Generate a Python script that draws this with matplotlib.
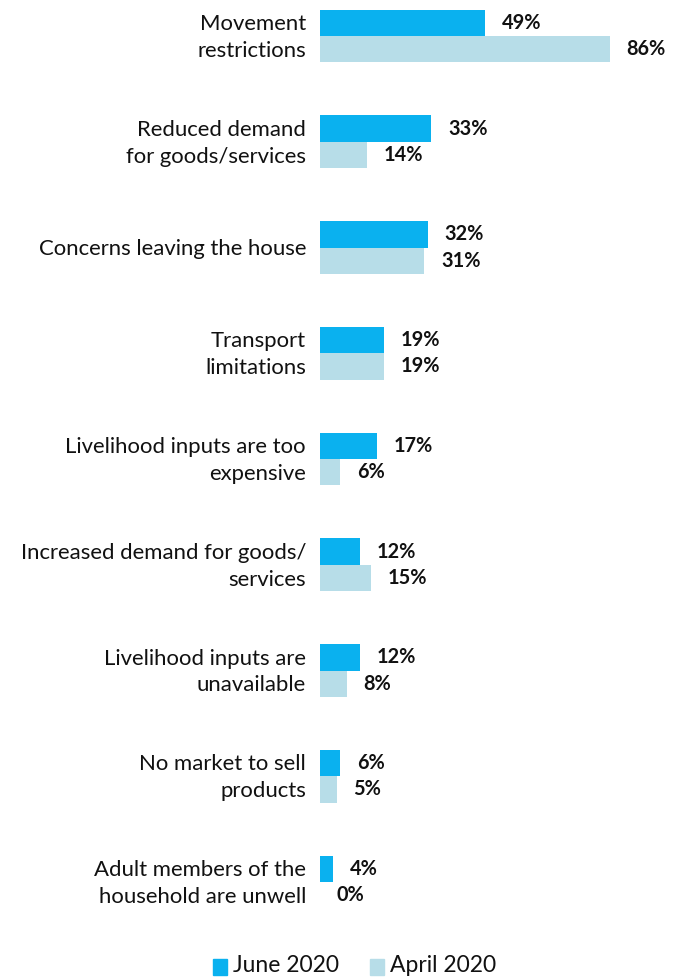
import numpy as np
import matplotlib
matplotlib.use('Agg')
import matplotlib.pyplot as plt
from matplotlib.patches import Rectangle

JUNE = '#0AB1EF'
APRIL = '#B7DDE8'
INK = '#111111'
plt.rcParams['font.family'] = ['Lato', 'DejaVu Sans']

categories = [
    'Movement\nrestrictions',
    'Reduced demand\nfor goods/services',
    'Concerns leaving the house',
    'Transport\nlimitations',
    'Livelihood inputs are too\nexpensive',
    'Increased demand for goods/\nservices',
    'Livelihood inputs are\nunavailable',
    'No market to sell\nproducts',
    'Adult members of the\nhousehold are unwell',
]
june_2020 = [49, 33, 32, 19, 17, 12, 12, 6, 4]
april_2020 = [86, 14, 31, 19, 6, 15, 8, 5, 0]
series_names = ['June 2020', 'April 2020']

W, H = 677, 977
fig = plt.figure(figsize=(W / 100, H / 100), dpi=100)
ax = fig.add_axes([320 / W, 0, 357 / W, 1])

y = np.arange(len(categories))
bh = 0.25
ax.barh(y - bh / 2, june_2020, height=bh, color=JUNE)
ax.barh(y + bh / 2, april_2020, height=bh, color=APRIL)

vlab = dict(va='center', ha='left', fontsize=14.3, fontweight='bold',
            color=INK, textcoords='offset points')
for yi, v in zip(y, june_2020):
    ax.annotate(f'{v}%', (v, yi - bh / 2), xytext=(12, 0), **vlab)
for yi, v in zip(y, april_2020):
    ax.annotate(f'{v}%', (v, yi + bh / 2), xytext=(12, 0), **vlab)

# category labels sit left of the zero line, right aligned
for yi, lab in zip(y, categories):
    ax.annotate(lab, (0, yi), xytext=(-10, -1), textcoords='offset points',
                va='center', ha='right', multialignment='right',
                fontsize=15.9, color=INK, linespacing=1.42, annotation_clip=False)

ax.set_xlim(0, 357 / 3.37)
ax.set_ylim(8.898, -0.3404)
ax.axis('off')

# legend row at the bottom
for (x0, name, col) in [(213, series_names[0], JUNE), (370, series_names[1], APRIL)]:
    fig.patches.append(Rectangle((x0 / W, 1 - 975 / H), 14 / W, 16 / H,
                                 transform=fig.transFigure, color=col))
    fig.text((x0 + 20) / W, 1 - 965 / H, name, fontsize=16.5, color=INK,
             va='center', ha='left')

fig.savefig('out.png', dpi=100, facecolor='white')
